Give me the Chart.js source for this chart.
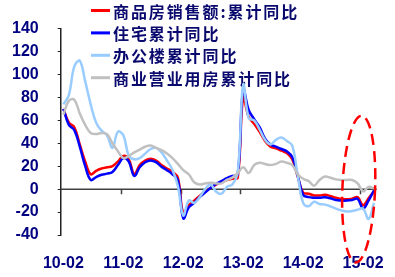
<!DOCTYPE html>
<html>
<head>
<meta charset="utf-8">
<script src="https://cdn.jsdelivr.net/npm/chart.js@4"></script>
<style>
  html, body { margin: 0; padding: 0; background: #fff; }
</style>
</head>
<body>
<canvas id="chart" width="395" height="277"></canvas>
<script>
// months (January is not published, so each year starts at -02)
const months = [
    '10-02','10-03','10-04','10-05','10-06','10-07','10-08','10-09','10-10','10-11','10-12',
    '11-02','11-03','11-04','11-05','11-06','11-07','11-08','11-09','11-10','11-11','11-12',
    '12-02','12-03','12-04','12-05','12-06','12-07','12-08','12-09','12-10','12-11','12-12',
    '13-02','13-03','13-04','13-05','13-06','13-07','13-08','13-09','13-10','13-11','13-12',
    '14-02','14-03','14-04','14-05','14-06','14-07','14-08','14-09','14-10','14-11','14-12',
    '15-02','15-03','15-04'
];

const seriesNames = ['商品房销售额:累计同比', '住宅累计同比', '办公楼累计同比', '商业营业用房累计同比'];
const seriesColors = ['#ff0000', '#0000ff', '#99ccff', '#c0c0c0'];

const salesYoY = [
    70, 58, 54, 39, 24, 13, 16, 18, 19, 20, 24,
    29, 26, 13, 21, 25, 26.5, 25, 21, 18, 15, 10,
    -21, -14, -10, -6, -2, 1, 4, 6, 8, 9, 10,
    80, 63, 57, 50, 42, 37, 35.5, 33.5, 31.5, 26, 11,
    -3, -4, -5.5, -5.5, -5, -6, -7.5, -8.5, -8.8, -8.3, -7,
    -14, -8, -2
];
const housingYoY = [
    70, 56, 51.5, 37, 20, 8, 10.5, 12.5, 13.5, 15, 21,
    27, 24, 11.5, 19, 23.5, 25, 23.5, 19.5, 16.5, 13, 8,
    -25.5, -16, -12, -7, -3, 1, 4.5, 7, 9.5, 11.5, 13,
    87, 69, 61, 54, 44, 39, 37, 35, 33, 28, 12,
    -5, -7, -7.5, -7.5, -7, -8, -9.5, -10, -10, -9.5, -8.5,
    -17, -10, -1
];
const officeYoY = [
    74, 82, 107, 112, 94, 74, 58, 51, 47, 36, 50,
    47, 29, 26, 27, 31, 35, 36, 32, 25, 17, 3,
    -23, -10, -12, -7, 0, 4, -2, -4, 2, 4, 15,
    91, 62, 60, 52, 43, 39, 43, 45, 42, 38, 12,
    -12, -15, -11, -13, -13.5, -15, -17, -18.5, -19.5, -19, -18,
    -17, -26, -12
];
const commercialYoY = [
    65, 77, 78, 66, 56, 49, 48, 49, 48, 40, 33,
    27, 29, 32, 34.5, 37, 38, 36, 34, 31, 27, 22,
    16.5, 13, 6, 4, 5, 5.5, 5, 5, 8, 10, 14,
    19, 14, 21, 23, 22, 21, 22, 24, 23, 21, 13,
    9, 7, 3, 8, 11, 10, 8.5, 8, 8, 8, 5,
    -2, 2, 0.5
];

const yTicks = { min: -40, max: 140, step: 20 };

// dashed ellipse marking the latest months
const highlight = { from: '14-12', to: '15-02', halfWidth: 3, halfHeight: 64 };

const navy = '#000080';

// zero line, x tick marks, legend, highlight ellipse
const decorations = {
    id: 'decorations',
    beforeDatasetsDraw(chart) {
        const ctx = chart.ctx;
        const x = chart.scales.x, y = chart.scales.y;
        const area = chart.chartArea;
        const y0 = y.getPixelForValue(0);
        const step = x.getPixelForValue(1) - x.getPixelForValue(0);

        ctx.save();
        ctx.strokeStyle = '#404040';
        ctx.lineWidth = 1.5;
        ctx.beginPath();
        ctx.moveTo(area.left, y0);
        ctx.lineTo(area.right, y0);
        months.forEach((m, i) => {
            if (i > 0 && m.endsWith('-02')) {
                const px = Math.round(x.getPixelForValue(i) - step / 2) + 0.5;
                ctx.moveTo(px, y0);
                ctx.lineTo(px, y0 + 5);
            }
        });
        ctx.stroke();

        // legend
        ctx.font = 'bold 16px "Noto Sans CJK SC"';
        ctx.letterSpacing = '1.9px';
        ctx.textBaseline = 'middle';
        ctx.fillStyle = '#0a0a6e';
        seriesNames.forEach((name, k) => {
            const ly = 10.5 + k * 22.4;
            ctx.strokeStyle = seriesColors[k];
            ctx.lineWidth = 3;
            ctx.beginPath();
            ctx.moveTo(91, ly);
            ctx.lineTo(110, ly);
            ctx.stroke();
            ctx.fillText(name, 113, ly + 1);
        });
        ctx.restore();
    },
    afterDraw(chart) {
        const ctx = chart.ctx;
        const x = chart.scales.x, y = chart.scales.y;
        const a = months.indexOf(highlight.from), b = months.indexOf(highlight.to);
        const step = x.getPixelForValue(1) - x.getPixelForValue(0);
        const cx = x.getPixelForValue(a) + (x.getPixelForValue(b) - x.getPixelForValue(a)) * 0.2;
        const cy = y.getPixelForValue(0);
        const ry = cy - y.getPixelForValue(highlight.halfHeight);
        ctx.save();
        ctx.strokeStyle = '#ff0000';
        ctx.lineWidth = 2.5;
        ctx.setLineDash([11, 6]);
        ctx.beginPath();
        ctx.ellipse(cx, cy, highlight.halfWidth * step, ry, 0.04, 0, Math.PI * 2);
        ctx.stroke();
        // the source picture is cut off at the right
        ctx.clearRect(385, 0, chart.width - 385, chart.height);
        ctx.restore();
    }
};

const datasets = [salesYoY, housingYoY, officeYoY, commercialYoY].map((values, k) => ({
    label: seriesNames[k],
    data: values,
    borderColor: seriesColors[k],
    backgroundColor: seriesColors[k],
    borderWidth: 2.5,
    pointRadius: 0,
    tension: 0.4,
    order: 4 - k
}));

new Chart(document.getElementById('chart'), {
    type: 'line',
    data: { labels: months, datasets: datasets },
    options: {
        responsive: false,
        animation: false,
        layout: { padding: { left: 0, right: 10.7, top: 6.2, bottom: 0 } },
        plugins: {
            legend: { display: false },
            tooltip: { enabled: false }
        },
        scales: {
            x: {
                type: 'category',
                offset: true,
                grid: { display: false },
                border: { display: false },
                afterFit(scale) { scale.height = 42; },
                afterBuildTicks(scale) {
                    scale.ticks = scale.ticks.filter(t => months[t.value].endsWith('-02'));
                },
                ticks: {
                    autoSkip: false,
                    maxRotation: 0,
                    padding: 11,
                    color: navy,
                    font: { family: 'Liberation Sans, Arial', size: 16, weight: 'bold' },
                    callback(value) { return months[value]; }
                }
            },
            y: {
                min: yTicks.min,
                max: yTicks.max,
                afterFit(scale) { scale.width = 60.7; },
                grid: { drawOnChartArea: false, tickLength: 3, color: '#222' },
                border: { display: true, color: '#222', width: 1.5 },
                ticks: {
                    stepSize: yTicks.step,
                    padding: 19,
                    color: navy,
                    font: { family: 'Liberation Sans, Arial', size: 16, weight: 'bold' }
                }
            }
        }
    },
    plugins: [decorations]
});
</script>
</body>
</html>
